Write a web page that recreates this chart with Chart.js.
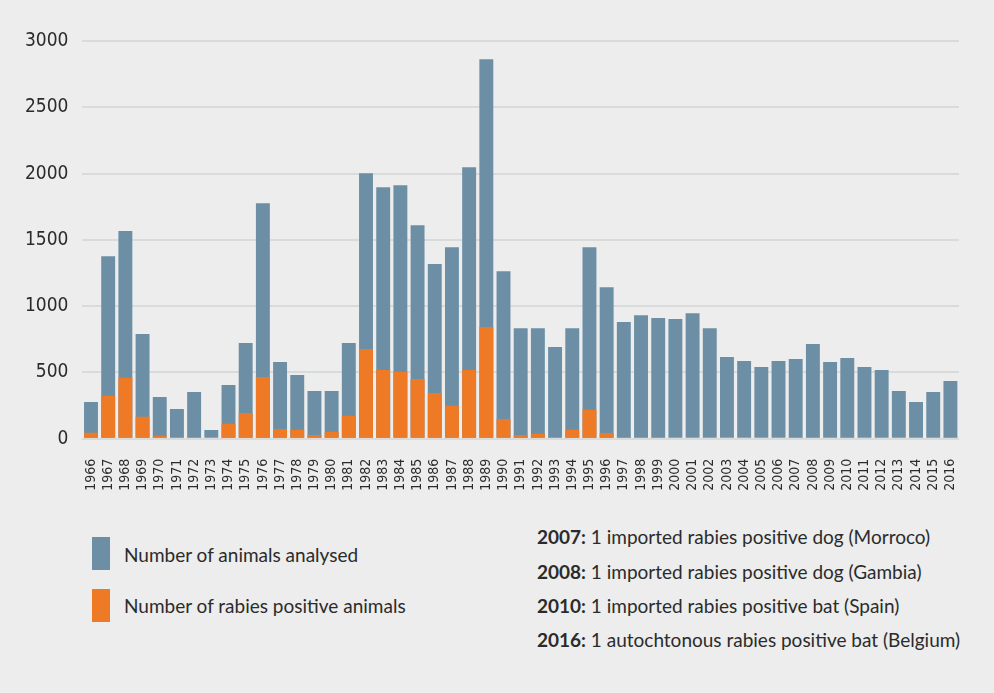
<!DOCTYPE html>
<html>
<head>
<meta charset="utf-8">
<script src="https://cdn.jsdelivr.net/npm/chart.js@4"></script>
<style>
    html, body { margin: 0; padding: 0; background: #ecedec; }
    body { width: 994px; height: 693px; position: relative; overflow: hidden; font-family: Lato, "Open Sans", sans-serif; color: #2b2b2b; }
    #chartBox { position: absolute; left: 0; top: 0; width: 994px; height: 490px; }
    .swatch { position: absolute; left: 92px; width: 18px; height: 33px; }
    .legText { position: absolute; left: 124px; font-size: 19px; line-height: 20px; }
    .note { position: absolute; left: 537px; font-size: 19px; line-height: 20px; white-space: nowrap; }
    .note b { font-weight: 700; }
</style>
</head>
<body>
<div id="chartBox"><canvas id="rabiesChart"></canvas></div>

<div class="swatch" style="top:537px;background:#6c8fa6"></div>
<div class="legText" style="top:545px">Number of animals analysed</div>
<div class="swatch" style="top:589px;background:#ee7a26"></div>
<div class="legText" style="top:596px">Number of rabies positive animals</div>

<div class="note" style="top:527px"><b>2007:</b> 1 imported rabies positive dog (Morroco)</div>
<div class="note" style="top:562px"><b>2008:</b> 1 imported rabies positive dog (Gambia)</div>
<div class="note" style="top:596px"><b>2010:</b> 1 imported rabies positive bat (Spain)</div>
<div class="note" style="top:630px"><b>2016:</b> 1 autochtonous rabies positive bat (Belgium)</div>

<script>
// years on the x axis
const years = ['1966', '1967', '1968', '1969', '1970', '1971', '1972', '1973', '1974', '1975',
    '1976', '1977', '1978', '1979', '1980', '1981', '1982', '1983', '1984', '1985',
    '1986', '1987', '1988', '1989', '1990', '1991', '1992', '1993', '1994', '1995',
    '1996', '1997', '1998', '1999', '2000', '2001', '2002', '2003', '2004', '2005',
    '2006', '2007', '2008', '2009', '2010', '2011', '2012', '2013', '2014', '2015', '2016'];

// number of animals analysed
const analysed = [276, 1377, 1566, 789, 314, 224, 352, 65, 405, 721,
    1777, 578, 480, 359, 359, 721, 2003, 1897, 1912, 1611,
    1317, 1445, 2048, 2862, 1264, 834, 834, 691, 834, 1445,
    1143, 880, 932, 910, 902, 947, 834, 616, 586, 540,
    586, 601, 714, 578, 608, 540, 518, 359, 276, 352, 435];

// number of rabies positive animals
const positive = [45, 324, 460, 166, 23, 10, 10, 0, 113, 194,
    465, 73, 68, 28, 53, 173, 676, 518, 505, 450,
    344, 249, 518, 842, 148, 28, 38, 10, 68, 219,
    43, 13, 10, 10, 0, 0, 0, 0, 0, 0,
    0, 10, 10, 0, 10, 0, 0, 0, 0, 0, 10];

const yTicks = [0, 500, 1000, 1500, 2000, 2500, 3000];

const axisFont = '"Liberation Sans Narrow", "DejaVu Sans Condensed", Lato, sans-serif';

const ctx = document.getElementById('rabiesChart').getContext('2d');
new Chart(ctx, {
    type: 'bar',
    data: {
        labels: years,
        datasets: [
            {
                label: 'Number of animals analysed',
                data: analysed,
                backgroundColor: '#6c8fa6',
                order: 1
            },
            {
                label: 'Number of rabies positive animals',
                data: positive,
                backgroundColor: '#ee7a26',
                order: 0
            }
        ]
    },
    options: {
        responsive: true,
        maintainAspectRatio: false,
        animation: false,
        layout: { padding: { top: 41, right: 35, left: 0, bottom: 0 } },
        datasets: { bar: { barPercentage: 0.81, categoryPercentage: 1 } },
        plugins: { legend: { display: false }, tooltip: { enabled: false } },
        scales: {
            x: {
                stacked: true,
                grid: { display: false },
                border: { display: false },
                ticks: {
                    minRotation: 90,
                    maxRotation: 90,
                    autoSkip: false,
                    padding: 12,
                    color: '#2b2b2b',
                    font: { family: axisFont, size: 14 }
                },
                afterFit: scale => { scale.height = 51.3; }
            },
            y: {
                stacked: false,
                min: 0,
                max: 3000,
                afterBuildTicks: scale => { scale.ticks = yTicks.map(v => ({ value: v })); },
                grid: { color: '#d9dbda', lineWidth: 2, drawTicks: false },
                border: { display: false },
                ticks: {
                    padding: 14,
                    color: '#2b2b2b',
                    font: { family: axisFont, size: 19 },
                    callback: v => String(v)
                },
                afterFit: scale => { scale.width = 82.4; }
            }
        }
    }
});
</script>
</body>
</html>
